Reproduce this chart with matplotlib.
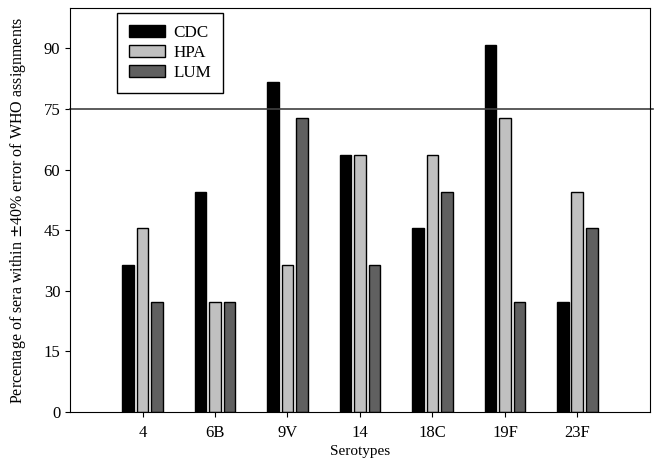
import numpy as np
import matplotlib.pyplot as plt

plt.rcParams['font.family'] = ['Liberation Serif', 'DejaVu Serif']

serotypes = ['4', '6B', '9V', '14', '18C', '19F', '23F']
cdc = [36.4, 54.5, 81.8, 63.6, 45.5, 90.9, 27.3]
hpa = [45.5, 27.3, 36.4, 63.6, 63.6, 72.7, 54.5]
lum = [27.3, 27.3, 72.7, 36.4, 54.5, 27.3, 45.5]

fig = plt.figure(figsize=(6.58, 4.58), dpi=100)
ax = fig.add_axes([0.1064, 0.1004, 0.8814, 0.8821])

x = np.arange(1, len(serotypes) + 1)
w = 0.165
ax.bar(x - 0.2, cdc, w, color='black', edgecolor='black', lw=1, label='CDC')
ax.bar(x, hpa, w, color='#c0c0c0', edgecolor='black', lw=1, label='HPA')
ax.bar(x + 0.2, lum, w, color='#606060', edgecolor='black', lw=1, label='LUM')

ax.axhline(75, color='#404040', lw=1.2, clip_on=False, xmax=1.005)

ax.set_xlim(0, 8)
ax.set_ylim(0, 100)
ax.set_xticks(x)
ax.set_xticklabels(serotypes, fontsize=12)
ax.set_yticks(np.arange(0, 91, 15))
ax.tick_params(axis='x', labelsize=12, pad=6)
ax.tick_params(axis='y', labelsize=12)
ax.set_xlabel('Serotypes', fontsize=11, labelpad=3)
ax.set_ylabel('Percentage of sera within $\\pm$40% error of WHO assignments',
              fontsize=11.5, labelpad=11)

leg = ax.legend(loc='upper left', bbox_to_anchor=(0.081, 0.988), borderaxespad=0,
                fontsize=12.3, fancybox=False, edgecolor='black', framealpha=1,
                handlelength=2.1, handleheight=0.7, handletextpad=0.5,
                borderpad=0.7, labelspacing=0.25)
leg.get_frame().set_linewidth(1)

fig.savefig('out.png', dpi=100)
